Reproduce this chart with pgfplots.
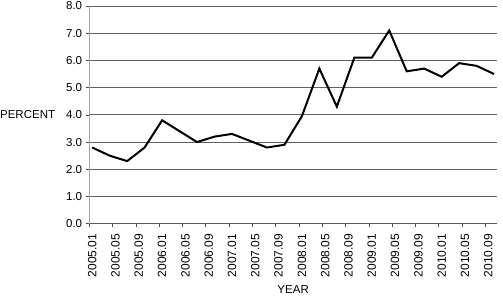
\documentclass[border=0pt]{standalone}
\usepackage{pgfplots}
\pgfplotsset{compat=1.18}
\usepackage{fontspec}
\setmainfont{Liberation Sans}
\begin{document}
\begin{tikzpicture}
\useasboundingbox (-89.3pt,-75.3pt) rectangle (413.7pt,223.7pt);
\begin{axis}[
  at={(0,0)}, anchor=south west,
  scale only axis, width=407.7pt, height=217.7pt,
  xmin=0, xmax=70, ymin=0, ymax=8,
  axis x line*=bottom, axis y line*=left,
  axis line style={-},
  x axis line style={draw=black!65, line width=0.8pt},
  y axis line style={draw=black!35, line width=1.5pt},
  ytick={0,1,...,8},
  /pgf/number format/.cd, fixed, fixed zerofill, precision=1, assume math mode=true,
  /pgfplots/.cd,
  ymajorgrids,
  grid style={draw=black!62, line width=0.8pt},
  xtick={0.5,4.5,...,68.5},
  xticklabels={2005.01,2005.05,2005.09,2006.01,2006.05,2006.09,2007.01,2007.05,2007.09,2008.01,2008.05,2008.09,2009.01,2009.05,2009.09,2010.01,2010.05,2010.09},
  minor xtick={0,4,...,68},
  tick align=outside,
  major x tick style={draw=none},
  minor x tick style={draw=black!70, line width=0.6pt},
  minor tick length=3pt,
  major y tick style={draw=black!70, line width=0.6pt},
  major tick length=3pt,
  xticklabel style={rotate=90, anchor=east, inner sep=1pt, font=\fontsize{12}{14}\selectfont},
  xticklabel shift=6pt,
  yticklabel style={font=\fontsize{11.5}{13}\selectfont, inner sep=1pt},
  yticklabel shift=3pt,
  clip=false,
]
\addplot[black, line width=2pt, line join=miter] coordinates {
(0.5,2.8) (3.5,2.5) (6.5,2.3) (9.5,2.8) (12.5,3.8) (15.5,3.4) (18.5,3.0) (21.5,3.2)
(24.5,3.3) (27.5,3.05) (30.5,2.8) (33.5,2.9) (36.5,3.95) (39.5,5.7) (42.5,4.3) (45.5,6.1)
(48.5,6.1) (51.5,7.1) (54.5,5.6) (57.5,5.7) (60.5,5.4) (63.5,5.9) (66.5,5.8) (69.5,5.5)
};
\node[anchor=east, font=\fontsize{11.5}{13}\selectfont, inner sep=0pt] at (axis description cs:0,0.5) [xshift=-34pt] {PERCENT};
\node[anchor=base, font=\fontsize{11.5}{13}\selectfont, inner sep=0pt] at (axis description cs:0.5,0) [yshift=-69.5pt] {YEAR};
\end{axis}
\end{tikzpicture}
\end{document}
